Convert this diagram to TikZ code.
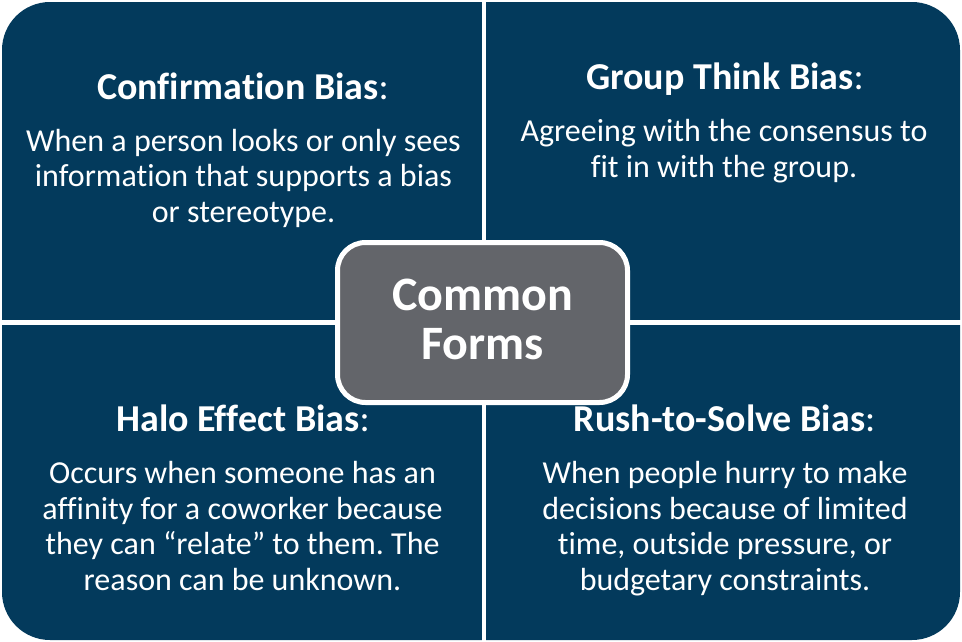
\documentclass[tikz,border=0pt]{standalone}
\usepackage{fontspec}
\setmainfont[Ligatures={NoCommon}]{Carlito}
\frenchspacing
\definecolor{navy}{RGB}{3,58,92}
\definecolor{slate}{RGB}{99,101,106}
\begin{document}
\begin{tikzpicture}[x=1pt,y=-1pt,
  panel/.style={fill=navy},
  gap/.style={fill=white},
  heading/.style={text=white,anchor=base,inner sep=0pt,font=\fontsize{38}{44}\selectfont},
  bodytext/.style={text=white,anchor=base,inner sep=0pt,align=center,font=\fontsize{32}{35.5}\selectfont},
  hub/.style={fill=slate,draw=white,line width=5pt,rounded corners=28pt}]
\useasboundingbox (0,0) rectangle (962,641);

% four panels: one rounded block split by white gaps
\fill[panel,rounded corners=48pt] (2,2) rectangle (960,640);
\fill[gap] (482,0) rectangle (486,641);
\fill[gap] (0,320) rectangle (962,325);

% centre hub (multi-line nodes sit on the baseline of their last line)
\path[hub] (337.5,242.5) rectangle (627.5,402.5);
\node[text=white,align=center,inner sep=0pt,anchor=base,
      font=\bfseries\fontsize{48}{49}\selectfont] (hub) at (482.5,359) {Common\\Forms};

% top left
\node[heading] (t1) at (243,99) {\textbf{Confirmation Bias}:};
\node[bodytext] (b1) at (243.5,222) {When a person looks or only sees\\information that supports a bias\\or stereotype.};

% top right
\node[heading] (t2) at (725,89) {\textbf{Group Think Bias}:};
\node[bodytext] (b2) at (724,177) {Agreeing with the consensus to\\fit in with the group.};

% bottom left
\node[heading] (t3) at (243,431) {\textbf{Halo Effect Bias}:};
\node[bodytext] (b3) at (242.5,590) {Occurs when someone has an\\affinity for a coworker because\\they can “relate” to them. The\\reason can be unknown.};

% bottom right
\node[heading] (t4) at (724.5,431) {\textbf{Rush-to-Solve Bias}:};
\node[bodytext] (b4) at (725,590) {When people hurry to make\\decisions because of limited\\time, outside pressure, or\\budgetary constraints.};
\end{tikzpicture}
\end{document}
